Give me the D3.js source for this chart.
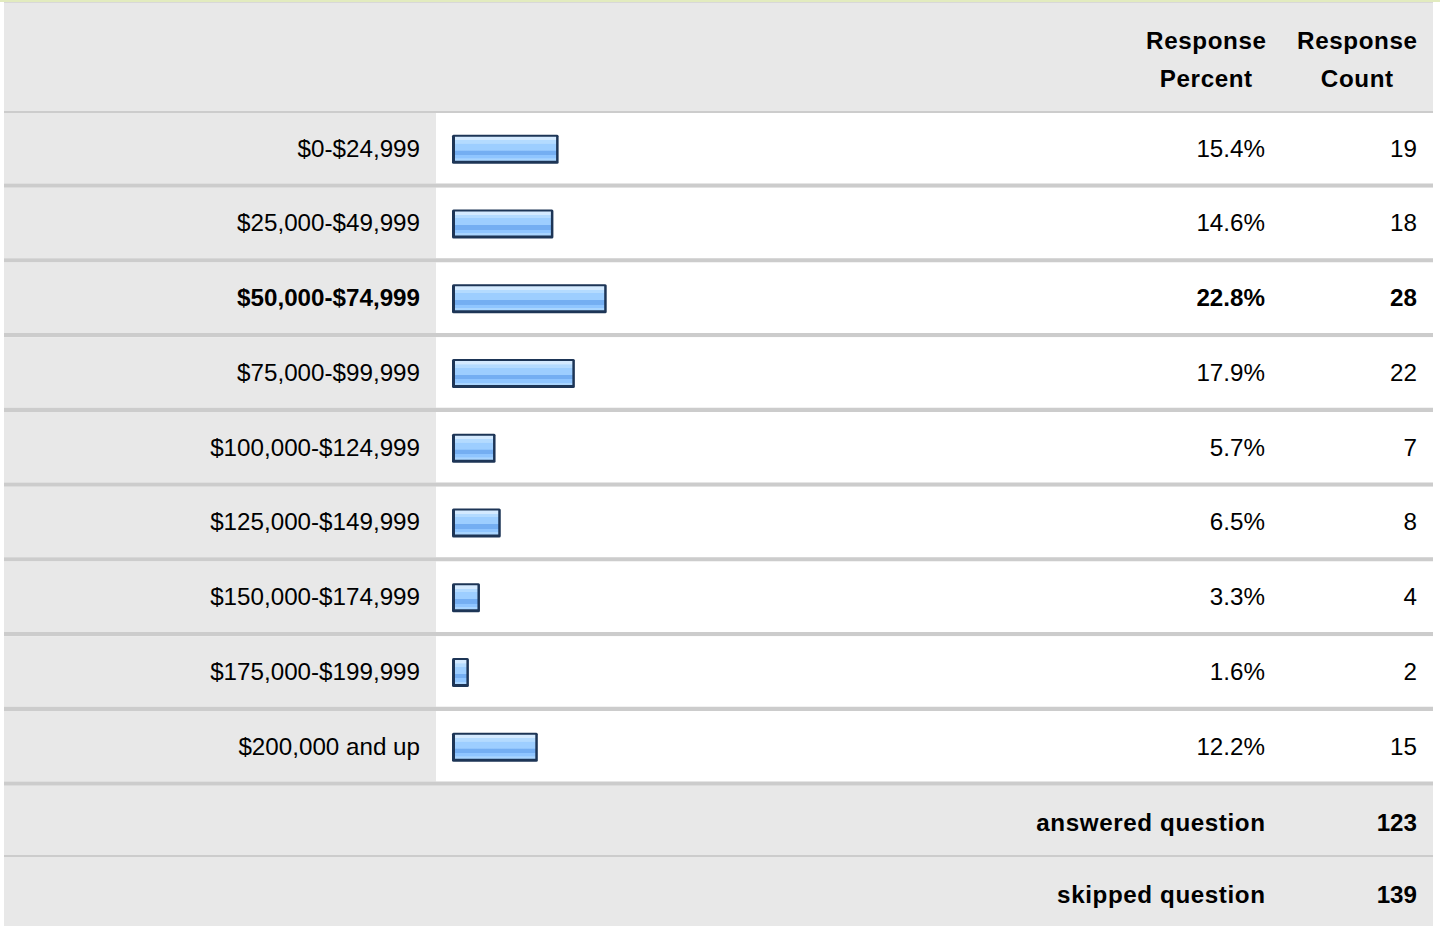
<!DOCTYPE html>
<html>
<head>
<meta charset="utf-8">
<script src="https://cdn.jsdelivr.net/npm/d3@7"></script>
<style>
  html, body { margin: 0; padding: 0; background: #ffffff; }
  svg { display: block; }
  text { font-family: "Liberation Sans", Arial, Helvetica, sans-serif; fill: #000; }
</style>
</head>
<body>
<div id="chart"></div>
<script>
// ---- data ----
const categories = ["$0-$24,999", "$25,000-$49,999", "$50,000-$74,999", "$75,000-$99,999",
  "$100,000-$124,999", "$125,000-$149,999", "$150,000-$174,999", "$175,000-$199,999", "$200,000 and up"];
const percents = [15.4, 14.6, 22.8, 17.9, 5.7, 6.5, 3.3, 1.6, 12.2];
const counts = [19, 18, 28, 22, 7, 8, 4, 2, 15];
const headerPercent = ["Response", "Percent"];
const headerCount = ["Response", "Count"];
const footerLabels = ["answered question", "skipped question"];
const footerValues = [123, 139];

// ---- layout ----
const W = 1440, H = 926;
const left = 4, right = 1433;
const labelColRight = 436;
const labelX = 420, pctX = 1265, cntX = 1417;
const pctCenter = 1206, cntCenter = 1357;
const headerTop = 3, headerBottom = 111;
const rowsTop = 113, rowsBottom = 785.75;
const sepH = 4.25;
const gray = "#e8e8e8", sepColor = "#cccccc";
const fs = 24.2;
const boldSpacing = 0.6;

const svg = d3.select("#chart").append("svg").attr("width", W).attr("height", H);

const defs = svg.append("defs");
const grad = defs.append("linearGradient").attr("id", "barGrad")
  .attr("x1", 0).attr("y1", 0).attr("x2", 0).attr("y2", 1);
[[0, "#d4eaff"], [0.14, "#d4eaff"], [0.15, "#b4dbff"], [0.28, "#b4dbff"], [0.29, "#9dceff"],
 [0.57, "#9dceff"], [0.58, "#74aef2"], [0.76, "#74aef2"], [0.77, "#8fc5ff"], [0.9, "#8fc5ff"],
 [0.91, "#a9d5ff"], [1, "#a9d5ff"]].forEach(([o, c]) =>
  grad.append("stop").attr("offset", o).attr("stop-color", c));

// top accent line
svg.append("rect").attr("x", 0).attr("y", 0).attr("width", W).attr("height", 2).attr("fill", "#e2ebbf");
svg.append("rect").attr("x", left).attr("y", 2).attr("width", right - left).attr("height", 1).attr("fill", "#d8d8d8");

// header
svg.append("rect").attr("x", left).attr("y", headerTop).attr("width", right - left)
  .attr("height", headerBottom - headerTop).attr("fill", gray);
svg.append("rect").attr("x", left).attr("y", headerBottom).attr("width", right - left)
  .attr("height", rowsTop - headerBottom).attr("fill", sepColor);

const hdr = svg.append("g").attr("font-weight", "bold").attr("font-size", fs).attr("text-anchor", "middle")
  .attr("letter-spacing", boldSpacing);
[[headerPercent, pctCenter], [headerCount, cntCenter]].forEach(([lines, cx]) => {
  lines.forEach((t, i) => {
    hdr.append("text").attr("x", cx + boldSpacing / 2).attr("y", 41 + i * 38).attr("dy", "0.35em").text(t);
  });
});

// rows
const y = d3.scaleBand().domain(categories).range([rowsTop, rowsBottom]).paddingInner(0).paddingOuter(0);
const x = d3.scaleLinear().domain([0, 100]).range([0, 650]);
const maxCount = d3.max(counts);
const rowH = y.bandwidth() - sepH;

const rows = svg.append("g").selectAll("g").data(categories).join("g")
  .attr("transform", d => `translate(0,${y(d)})`);

rows.append("rect").attr("x", left).attr("y", 0).attr("width", labelColRight - left).attr("height", rowH).attr("fill", gray);
rows.append("rect").attr("x", labelColRight).attr("y", 0).attr("width", right - labelColRight).attr("height", rowH).attr("fill", "#ffffff");
rows.append("rect").attr("x", left).attr("y", rowH).attr("width", right - left).attr("height", sepH).attr("fill", sepColor);

const barX = 452, barH = 29;
rows.append("rect")
  .attr("x", barX).attr("y", rowH / 2 - barH / 2 + 1)
  .attr("width", (d, i) => x(percents[i]) + 6.5).attr("height", barH)
  .attr("rx", 1.5).attr("fill", "#1d3556");
rows.append("rect")
  .attr("x", barX + 3).attr("y", rowH / 2 - barH / 2 + 1 + 2)
  .attr("width", (d, i) => x(percents[i]) + 6.5 - 5.5).attr("height", barH - 5)
  .attr("fill", "url(#barGrad)");

const isMax = i => counts[i] === maxCount;
rows.append("text").attr("x", labelX).attr("y", rowH / 2).attr("dy", "0.35em")
  .attr("text-anchor", "end").attr("font-size", fs)
  .attr("font-weight", (d, i) => isMax(i) ? "bold" : "normal").text(d => d);
rows.append("text").attr("x", pctX).attr("y", rowH / 2).attr("dy", "0.35em")
  .attr("text-anchor", "end").attr("font-size", fs)
  .attr("font-weight", (d, i) => isMax(i) ? "bold" : "normal").text((d, i) => percents[i].toFixed(1) + "%");
rows.append("text").attr("x", cntX).attr("y", rowH / 2).attr("dy", "0.35em")
  .attr("text-anchor", "end").attr("font-size", fs)
  .attr("font-weight", (d, i) => isMax(i) ? "bold" : "normal").text((d, i) => counts[i]);

// footer
const footTops = [rowsBottom, 857];
const footBottoms = [855, H];
footerLabels.forEach((lab, i) => {
  const t = footTops[i], b = footBottoms[i];
  svg.append("rect").attr("x", left).attr("y", t).attr("width", right - left).attr("height", b - t).attr("fill", gray);
  if (i === 0) svg.append("rect").attr("x", left).attr("y", 855).attr("width", right - left).attr("height", 2).attr("fill", sepColor);
  const cy = i === 0 ? 823 : 895;
  svg.append("text").attr("x", pctX + boldSpacing).attr("y", cy).attr("dy", "0.35em").attr("text-anchor", "end")
    .attr("font-size", fs).attr("font-weight", "bold").attr("letter-spacing", boldSpacing).text(lab);
  svg.append("text").attr("x", cntX).attr("y", cy).attr("dy", "0.35em").attr("text-anchor", "end")
    .attr("font-size", fs).attr("font-weight", "bold").text(footerValues[i]);
});
</script>
</body>
</html>
